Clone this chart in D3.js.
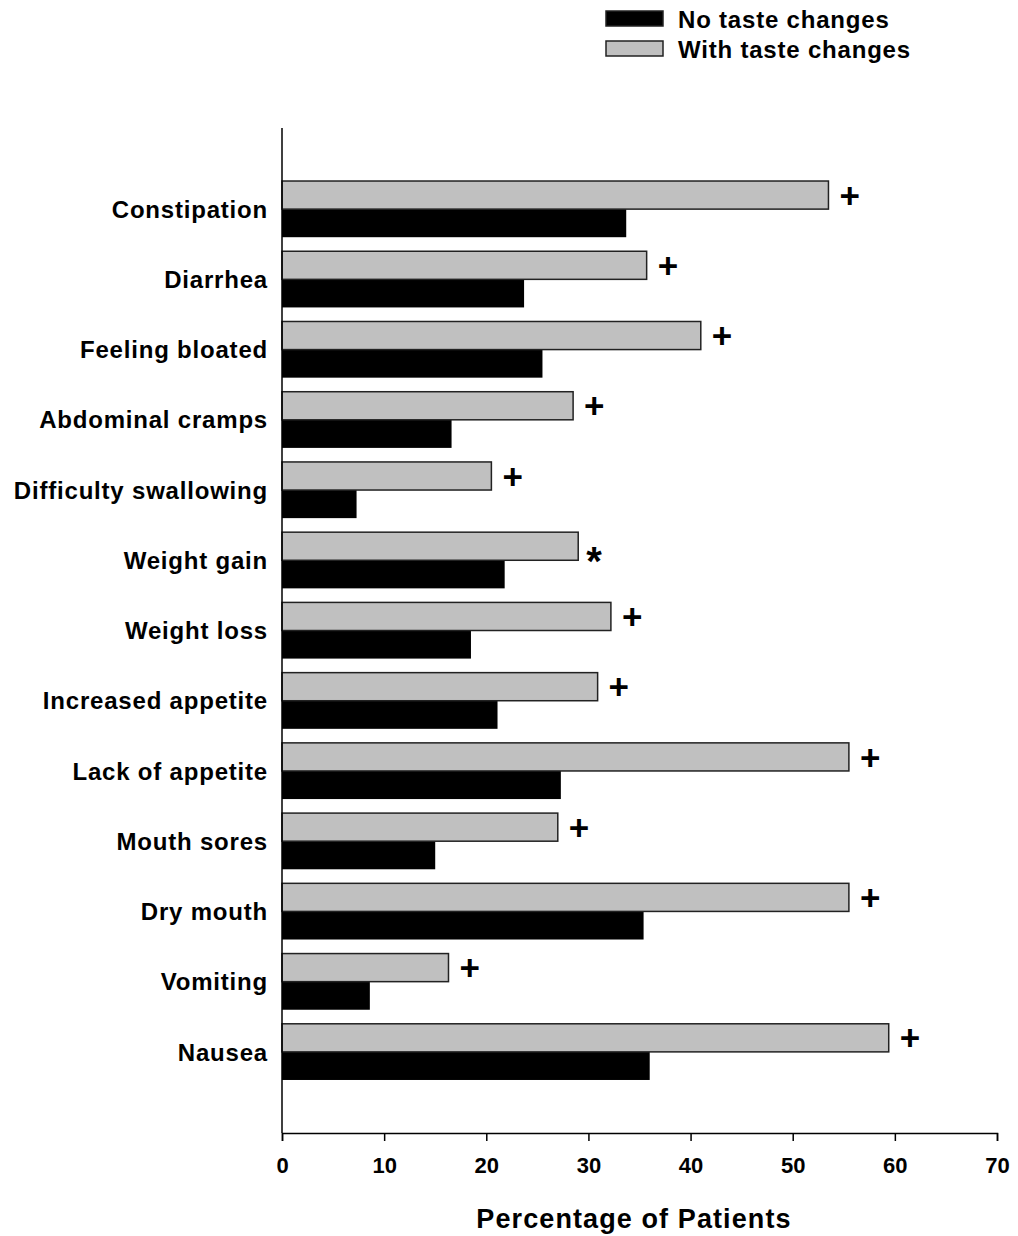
<!doctype html>
<meta charset="utf-8">
<title>Taste changes chart</title>
<script src="https://cdn.jsdelivr.net/npm/d3@7"></script>
<style>
  body { margin: 0; background: #fff; }
  text { font-family: Arial, "Liberation Sans", sans-serif; font-weight: bold; fill: #000; }
</style>
<body>
<script>
// data
var categories = ['Constipation', 'Diarrhea', 'Feeling bloated', 'Abdominal cramps',
  'Difficulty swallowing', 'Weight gain', 'Weight loss', 'Increased appetite',
  'Lack of appetite', 'Mouth sores', 'Dry mouth', 'Vomiting', 'Nausea'];
var withTaste = [53.5, 35.7, 41.0, 28.5, 20.5, 29.0, 32.2, 30.9, 55.5, 27.0, 55.5, 16.3, 59.4];
var noTaste   = [33.7, 23.7, 25.5, 16.6, 7.3, 21.8, 18.5, 21.1, 27.3, 15.0, 35.4, 8.6, 36.0];
var marks     = ['+', '+', '+', '+', '+', '*', '+', '+', '+', '+', '+', '+', '+'];
var xTicks = [0, 10, 20, 30, 40, 50, 60, 70];
var series = ['No taste changes', 'With taste changes'];

var width = 1018
  , height = 1236;

var svg = d3.select('body').append('svg')
  .attr('width', width)
  .attr('height', height);

var x = d3.scaleLinear().domain([0, 70]).range([282, 997]);
var y = d3.scaleBand().domain(categories).range([174, 1087])
  .paddingInner(0.2).paddingOuter(0.1);
var sub = d3.scaleBand().domain(['with', 'no']).range([0, y.bandwidth()]);

var rows = categories.map(function(c, i) {
  return { cat: c, w: withTaste[i], n: noTaste[i], m: marks[i] };
});

// bars
var g = svg.append('g');
var row = g.selectAll('g.row').data(rows).enter().append('g')
  .attr('class', 'row')
  .attr('transform', function(d) { return 'translate(0,' + y(d.cat) + ')'; });

row.append('rect')
  .attr('x', x(0))
  .attr('y', sub('no'))
  .attr('width', function(d) { return x(d.n) - x(0); })
  .attr('height', sub.bandwidth())
  .attr('fill', '#000');

row.append('rect')
  .attr('x', x(0))
  .attr('y', sub('with'))
  .attr('width', function(d) { return x(d.w) - x(0); })
  .attr('height', sub.bandwidth())
  .attr('fill', '#c0c0c0')
  .attr('stroke', '#222')
  .attr('stroke-width', 1.5);

// significance marks
row.append('text')
  .attr('x', function(d) { return x(d.w) + (d.m == '*' ? 8 : 11); })
  .attr('y', sub('with') + sub.bandwidth() / 2)
  .attr('dy', function(d) { return d.m == '*' ? '0.72em' : '0.36em'; })
  .style('font-size', function(d) { return d.m == '*' ? '40px' : '35px'; })
  .text(function(d) { return d.m; });

// category labels
row.append('text')
  .attr('x', 268)
  .attr('y', y.bandwidth() / 2)
  .attr('dy', '0.36em')
  .attr('text-anchor', 'end')
  .style('font-size', '24px')
  .style('letter-spacing', '0.8px')
  .text(function(d) { return d.cat; });

// y axis line
svg.append('line')
  .attr('x1', x(0)).attr('x2', x(0))
  .attr('y1', 128).attr('y2', 1133)
  .attr('stroke', '#000').attr('stroke-width', 1.5);

// x axis
var xAxis = svg.append('g')
  .attr('transform', 'translate(0,1133)')
  .call(d3.axisBottom(x).tickValues(xTicks).tickSize(8).tickPadding(16));
xAxis.select('.domain').attr('stroke-width', 1.5);
xAxis.selectAll('.tick line').attr('stroke-width', 1.5);
xAxis.selectAll('.tick text')
  .style('font-size', '22px')
  .style('font-family', 'Arial, "Liberation Sans", sans-serif')
  .style('font-weight', 'bold');

svg.append('text')
  .attr('x', 634)
  .attr('y', 1228)
  .attr('text-anchor', 'middle')
  .style('font-size', '27px')
  .style('letter-spacing', '1.1px')
  .text('Percentage of Patients');

// legend
var leg = svg.append('g').selectAll('g').data(series).enter().append('g')
  .attr('transform', function(d, i) { return 'translate(606,' + (11 + i * 30) + ')'; });
leg.append('rect')
  .attr('width', 57).attr('height', 15)
  .attr('fill', function(d, i) { return i == 0 ? '#000' : '#c0c0c0'; })
  .attr('stroke', '#222').attr('stroke-width', 1.5);
leg.append('text')
  .attr('x', 72).attr('y', 8).attr('dy', '0.36em')
  .style('font-size', '24px')
  .style('letter-spacing', '0.8px')
  .text(function(d) { return d; });
</script>
</body>
